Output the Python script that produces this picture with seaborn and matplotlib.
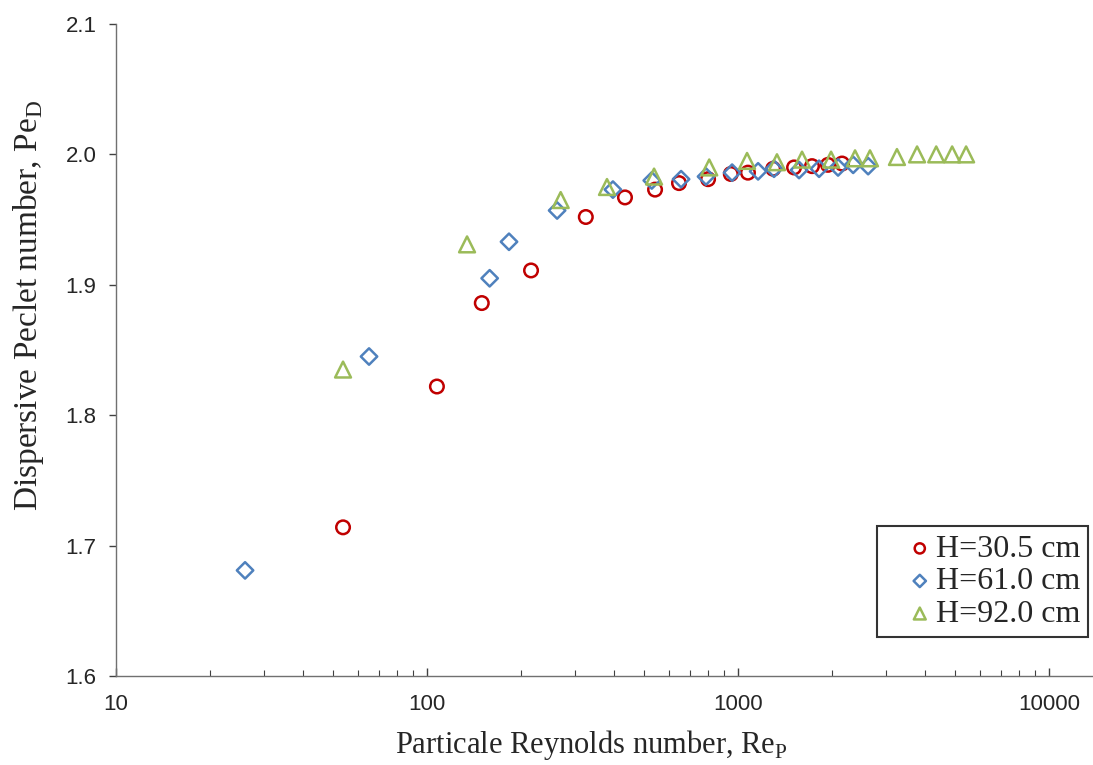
import numpy as np
import pandas as pd
import matplotlib
matplotlib.use("Agg")
import matplotlib.pyplot as plt
import seaborn as sns
from matplotlib.ticker import LogLocator, FixedLocator, NullFormatter, FuncFormatter

# ---- data ----
re_h305 = [53.7, 107.6, 150, 216, 324, 433, 541, 646, 801, 948, 1076, 1297, 1514, 1729, 1946, 2160]
pe_h305 = [1.714, 1.822, 1.886, 1.911, 1.952, 1.967, 1.973, 1.978, 1.981, 1.985, 1.986, 1.989, 1.990, 1.991, 1.992, 1.993]

re_h610 = [26.0, 65.1, 159, 183.5, 262, 396, 528, 656, 789, 957, 1160, 1305, 1571, 1822, 2097, 2345, 2620]
pe_h610 = [1.681, 1.845, 1.905, 1.933, 1.957, 1.973, 1.980, 1.981, 1.983, 1.986, 1.987, 1.989, 1.988, 1.989, 1.990, 1.992, 1.991]

re_h920 = [53.7, 134.5, 269, 379, 537, 808, 1069, 1334, 1606, 1991, 2378, 2656, 3243, 3764, 4337, 4880, 5411]
pe_h920 = [1.835, 1.931, 1.965, 1.975, 1.983, 1.990, 1.995, 1.994, 1.996, 1.996, 1.997, 1.997, 1.998, 2.000, 2.000, 2.000, 2.000]

series_labels = ["H=30.5 cm", "H=61.0 cm", "H=92.0 cm"]
x_ticks = [10, 100, 1000, 10000]
y_ticks = [1.6, 1.7, 1.8, 1.9, 2.0, 2.1]

xlabel = r"Particale Reynolds number, Re$_\mathregular{P}$"
ylabel = r"Dispersive Peclet number, Pe$_\mathregular{D}$"

# ---- plotting ----
sns.set_style("white")
plt.rcParams["font.family"] = ["Liberation Sans", "DejaVu Sans"]

df = pd.concat([
    pd.DataFrame({"Re": re_h305, "Pe": pe_h305, "H": series_labels[0]}),
    pd.DataFrame({"Re": re_h610, "Pe": pe_h610, "H": series_labels[1]}),
    pd.DataFrame({"Re": re_h920, "Pe": pe_h920, "H": series_labels[2]}),
])

colors = ["#C00000", "#4F81BD", "#9BBB59"]
markers = ["o", "D", "^"]
sizes = [95, 70, 130]

fig = plt.figure(figsize=(10.93, 7.65), dpi=100)
ax = fig.add_axes([116 / 1093, 1 - 676 / 765, 1 - 116 / 1093, (676 - 24) / 765])

for lab, c, m, s in zip(series_labels, colors, markers, sizes):
    sub = df[df["H"] == lab]
    sns.scatterplot(data=sub, x="Re", y="Pe", ax=ax, marker=m, s=s,
                    facecolor="none", edgecolor=c, linewidth=1.8, label=lab)

ax.set_xscale("log")
ax.set_xlim(10, 13845)
ax.set_ylim(1.6, 2.1)
ax.xaxis.set_major_locator(FixedLocator(x_ticks))
ax.xaxis.set_major_formatter(FuncFormatter(lambda v, p: f"{int(round(v))}"))
ax.xaxis.set_minor_locator(LogLocator(base=10, subs=np.arange(2, 10)))
ax.xaxis.set_minor_formatter(NullFormatter())
ax.yaxis.set_major_locator(FixedLocator(y_ticks))
ax.yaxis.set_major_formatter(FuncFormatter(lambda v, p: f"{v:.1f}"))

for sp in ["top", "right"]:
    ax.spines[sp].set_visible(False)
for sp in ["left", "bottom"]:
    ax.spines[sp].set_color("#707070")
    ax.spines[sp].set_linewidth(1.0)

ax.tick_params(axis="x", which="major", direction="in", length=6, width=1.0,
               color="#404040", labelsize=16, pad=13, bottom=True)
ax.tick_params(axis="x", which="minor", direction="in", length=4, width=0.8,
               color="#404040", bottom=True)
ax.tick_params(axis="y", which="major", direction="out", length=5, width=1.0,
               color="#404040", labelsize=16, pad=9, left=True)

ax.set_xlabel(xlabel, fontfamily="Liberation Serif", fontsize=22, labelpad=9)
ax.set_ylabel(ylabel, fontfamily="Liberation Serif", fontsize=24, labelpad=14)
ax.xaxis.label.set_x((591 - 116) / 977)
ax.yaxis.label.set_y((676 - 305) / 652)

leg = ax.legend(loc="lower right", bbox_to_anchor=(0.995, 0.06),
                borderaxespad=0, frameon=True, fancybox=False,
                edgecolor="black",
                prop={"family": "Liberation Serif", "size": 23},
                handlelength=2.2, handletextpad=-0.6, borderpad=0.25,
                labelspacing=0.1, markerscale=0.75)
leg.get_frame().set_linewidth(1.5)

fig.savefig("out.png", dpi=100)
